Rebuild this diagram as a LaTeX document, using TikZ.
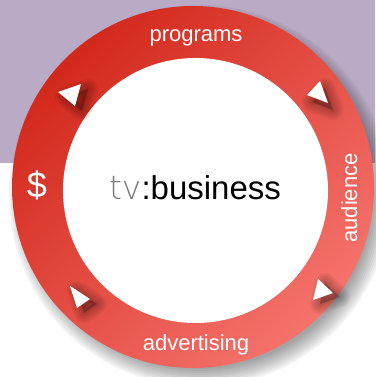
\documentclass[tikz,border=0pt]{standalone}
\usepackage{fontspec}
\setmainfont{Liberation Sans}
\newfontfamily\thinfont{DejaVu Sans ExtraLight}
\definecolor{bgpurple}{HTML}{B9ABC5}
\definecolor{ringdark}{HTML}{D3281C}
\definecolor{ringlight}{HTML}{F5736C}
\definecolor{tvgray}{HTML}{7A7A7A}

\tikzset{
  label/.style={text=white,inner sep=0pt,font=\fontsize{22}{26}\selectfont},
  arrowtip/.style={fill=white},
  tipshadow/.style={fill=black,draw=black,opacity=0.05,line join=round}
}

\begin{document}
\begin{tikzpicture}[x=1pt,y=1pt]
\useasboundingbox (0,0) rectangle (375,377);
\fill[bgpurple] (0,214) rectangle (375,377);
% soft shadow of the ring
\foreach \r in {-8,-6,...,10}
  \fill[black,opacity=0.045] (200,181) circle (181+\r);
\shade[top color=ringdark,bottom color=ringlight,shading angle=45] (193,190) circle (181);
\fill[white] (195.5,186.5) circle (132.5);
% shadows of the arrow tips
\foreach \w in {20,16,12,8,4}{
  \filldraw[tipshadow,line width=\w pt,shift={(7,-5)}] (58,285) -- (81,293) -- (75,271) -- cycle;
  \filldraw[tipshadow,line width=\w pt,shift={(5,-7)}] (307,282) -- (320,296) -- (328,274) -- cycle;
  \filldraw[tipshadow,line width=\w pt,shift={(7,-4)}] (318,98) -- (333,84) -- (313,77) -- cycle;
  \filldraw[tipshadow,line width=\w pt,shift={(7,-5)}] (70,91) -- (90,78) -- (77,69) -- cycle;
}
\fill[arrowtip] (58,285) -- (81,293) -- (75,271) -- cycle;
\fill[arrowtip] (307,282) -- (320,296) -- (328,274) -- cycle;
\fill[arrowtip] (318,98) -- (333,84) -- (313,77) -- cycle;
\fill[arrowtip] (70,91) -- (90,78) -- (77,69) -- cycle;
% labels
\node[label,anchor=base] (programs) at (196,335) {programs};
\node[label,anchor=base,rotate=90] (audience) at (357,179) {audience};
\node[label,anchor=base] (advertising) at (196,27) {advertising};
\node[label,anchor=base,font=\fontsize{36}{40}\selectfont] (money) at (37,179) {\$};
\node[anchor=base,inner sep=0pt,font=\fontsize{33}{38}\selectfont] (title) at (195,177)
  {{\thinfont\color{tvgray}tv}:business};
\end{tikzpicture}
\end{document}
